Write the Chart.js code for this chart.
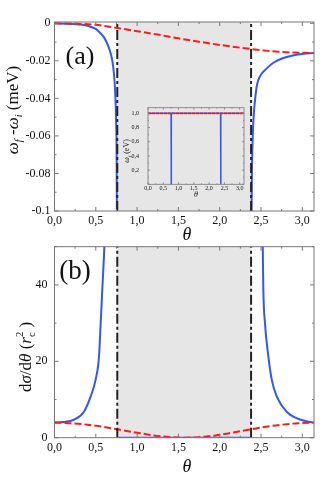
<!DOCTYPE html>
<html>
<head>
<meta charset="utf-8">
<script src="https://cdn.jsdelivr.net/npm/chart.js@4.4.1/dist/chart.umd.min.js"></script>
<style>
  html, body { margin: 0; padding: 0; background: #fff; }
  #wrap { position: relative; width: 332px; height: 478px; overflow: hidden; }
  canvas { position: absolute; }
  #chartA { left: 0; top: 0; }
  #chartB { left: 0; top: 240px; }
  #inset { left: 118px; top: 100px; }
</style>
</head>
<body>
<div id="wrap">
  <canvas id="chartA" width="332" height="240"></canvas>
  <canvas id="chartB" width="332" height="238"></canvas>
  <canvas id="inset" width="130" height="100"></canvas>
</div>
<script>
// ---- data ----
// panel (a): omega_f - omega_i (meV) vs theta
const thetaBlueA = [0, 0.2, 0.3, 0.4, 0.5, 0.55, 0.6, 0.65, 0.68, 0.7, 0.72, 0.735, 0.745, 0.752, 0.756,
                    1.57,
                    2.384, 2.39, 2.40, 2.415, 2.43, 2.45, 2.49, 2.57, 2.65, 2.77, 2.9, 3.0, 3.1416];
const shiftBlueA = [0, -0.0003, -0.0006, -0.0013, -0.003, -0.005, -0.0075, -0.012, -0.016, -0.02, -0.027, -0.037, -0.05, -0.07, -0.11,
                    null,
                    -0.11, -0.08, -0.06, -0.047, -0.04, -0.033, -0.028, -0.024, -0.021, -0.0185, -0.017, -0.0163, -0.0158];
const thetaRedA = [0, 0.25, 0.5, 0.76, 1.0, 1.25, 1.5, 1.75, 2.0, 2.25, 2.38, 2.5, 2.75, 3.0, 3.1416];
const shiftRedA = [0, -0.0002, -0.0008, -0.0025, -0.0042, -0.006, -0.008, -0.0098, -0.0115, -0.013, -0.0137, -0.0143, -0.0153, -0.0157, -0.0158];

// panel (b): d sigma / d theta (r_c^2) vs theta
const thetaBlueB = [0, 0.1, 0.236, 0.357, 0.438, 0.498, 0.539, 0.559, 0.579, 0.599, 0.62, 0.65,
                    0.7, 0.76, 2.38, 2.45,
                    2.49, 2.52, 2.528, 2.548, 2.589, 2.63, 2.69, 2.81, 2.93, 3.05, 3.1416];
const sigmaBlueB = [3.95, 4.1, 4.7, 6.8, 10.8, 15.2, 21.3, 30, 38.9, 47.6, 58, 75,
                    null, 0, 0, null,
                    75, 52, 38.9, 30, 21.3, 15.2, 10.8, 6.8, 5.1, 4.3, 3.95];
const thetaRedB = [0, 0.2, 0.4, 0.55, 0.76, 1.0, 1.2, 1.4, 1.57, 1.75, 1.95, 2.15, 2.38, 2.6, 2.75, 2.95, 3.1416];
const sigmaRedB = [3.95, 3.8, 3.4, 3.0, 2.2, 1.3, 0.6, 0.15, 0, 0.15, 0.6, 1.3, 2.2, 3.0, 3.4, 3.8, 3.95];

// inset: omega_f (eV) vs theta
const thetaBlueInset = [0, 0.755, 0.76, 0.765, 2.375, 2.38, 2.385, 3.1416];
const omegaBlueInset = [1, 1, 0, 1, 1, 0, 1, 1];
const thetaRedInset = [0, 3.1416];
const omegaRedInset = [1, 1];

// critical angles bounding the shaded band
const edges = [0.76, 2.38];

// axis limits
const xLim = [0, Math.PI];
const yLimA = [-0.1, 0.0007];
const yLimB = [0, 50];
const yLimInset = [0, 1.08];

const SERIF = '"Liberation Serif", "Times New Roman", serif';
const BLUE = '#3355ff';
const RED = '#ff1a1a';
const FRAME = '#777';

const pts = (xs, ys) => xs.map((x, i) => ({ x, y: ys[i] }));
const comma = v => v.toFixed(1).replace('.', ',');

function edgeLines(yLim, width) {
  return edges.map(e => ({
    data: [{ x: e, y: yLim[0] }, { x: e, y: yLim[1] }],
    borderColor: '#222', borderWidth: width, borderDash: [10, 3, 3, 3],
    pointRadius: 0, order: 0,
  }));
}

// shaded band between the critical angles
const shadePlugin = {
  id: 'shade',
  beforeDatasetsDraw(chart, args, o) {
    if (!o.on) return;
    const { ctx, chartArea: a, scales: { x } } = chart;
    const x0 = x.getPixelForValue(edges[0]);
    const x1 = x.getPixelForValue(edges[1]);
    ctx.save();
    ctx.fillStyle = '#e6e6e6';
    ctx.fillRect(x0, a.top, x1 - x0, a.bottom - a.top);
    ctx.restore();
  }
};

// box frame with inward major/minor ticks on all sides
const framePlugin = {
  id: 'frame',
  afterDatasetsDraw(chart, args, o) {
    const { ctx, chartArea: a, scales: { x, y } } = chart;
    ctx.save();
    ctx.strokeStyle = FRAME;
    ctx.lineWidth = o.lw;
    ctx.strokeRect(a.left, a.top, a.right - a.left, a.bottom - a.top);
    ctx.beginPath();
    const near = (v, s) => Math.abs(v / s - Math.round(v / s)) < 1e-6;
    for (let i = Math.ceil(x.min / o.xMinor - 1e-9); i * o.xMinor <= x.max + 1e-9; i++) {
      const v = i * o.xMinor;
      const px = x.getPixelForValue(v);
      const len = near(v, o.xMajor) ? o.major : o.minor;
      ctx.moveTo(px, a.bottom); ctx.lineTo(px, a.bottom - len);
      ctx.moveTo(px, a.top); ctx.lineTo(px, a.top + len);
    }
    for (let i = Math.ceil(y.min / o.yMinor - 1e-9); i * o.yMinor <= y.max + 1e-9; i++) {
      const v = i * o.yMinor;
      const py = y.getPixelForValue(v);
      const len = near(v, o.yMajor) ? o.major : o.minor;
      ctx.moveTo(a.left, py); ctx.lineTo(a.left + len, py);
      ctx.moveTo(a.right, py); ctx.lineTo(a.right - len, py);
    }
    ctx.stroke();
    ctx.restore();
  }
};

// text with italics / sub / superscripts
function richText(ctx, parts, cx, cy, size, rot) {
  ctx.save();
  ctx.translate(cx, cy);
  if (rot) ctx.rotate(rot);
  ctx.fillStyle = '#111';
  ctx.textBaseline = 'alphabetic';
  const fontOf = p => `${p.it ? 'italic ' : ''}${(p.sub || p.sup) ? size * 0.62 : size}px ${SERIF}`;
  let w = 0;
  for (const p of parts) {
    ctx.font = fontOf(p);
    p.w = ctx.measureText(p.t).width;
    if (!p.stack) w += p.w;
  }
  let x = -w / 2;
  for (const p of parts) {
    ctx.font = fontOf(p);
    const dy = p.sub ? size * 0.28 : p.sup ? -size * 0.42 : 0;
    ctx.fillText(p.t, x, size * 0.33 + dy);
    if (!p.stack) x += p.w;
  }
  ctx.restore();
}

const labelPlugin = {
  id: 'labels',
  afterDraw(chart, args, o) {
    for (const item of o.items || []) {
      richText(chart.ctx, item.parts.map(p => ({ ...p })), item.x, item.y, item.size, item.rot || 0);
    }
  }
};

Chart.register(shadePlugin, framePlugin, labelPlugin);

function baseOptions(c) {
  return {
    responsive: false,
    animation: false,
    events: [],
    layout: { padding: c.padding },
    plugins: {
      legend: { display: false },
      tooltip: { enabled: false },
      shade: { on: c.shade },
      frame: c.frame,
      labels: { items: c.labels },
    },
    scales: {
      x: {
        type: 'linear', min: xLim[0], max: xLim[1],
        grid: { display: false, drawTicks: false }, border: { display: false },
        ticks: {
          stepSize: 0.5, includeBounds: false, autoSkip: false, maxRotation: 0,
          padding: c.xPad, color: '#111', font: { family: SERIF, size: c.fs },
          callback: comma,
        },
        afterFit: s => { s.height = c.xh; s.paddingLeft = 0; s.paddingRight = 0; },
      },
      y: {
        type: 'linear', min: c.yLim[0], max: c.yLim[1],
        grid: { display: false, drawTicks: false }, border: { display: false },
        ticks: {
          stepSize: c.yStep, includeBounds: false, autoSkip: false,
          padding: c.yPad, color: '#111', font: { family: SERIF, size: c.fs },
          callback: c.yFmt,
        },
        afterFit: s => { s.width = c.yw; s.paddingTop = 0; s.paddingBottom = 0; },
      },
    },
  };
}

const lineDefaults = { pointRadius: 0, fill: false, spanGaps: false, cubicInterpolationMode: 'monotone' };

// ---- panel (a) ----
new Chart(document.getElementById('chartA'), {
  type: 'line',
  data: {
    datasets: [
      ...edgeLines(yLimA, 2),
      { ...lineDefaults, data: pts(thetaRedA, shiftRedA), borderColor: RED, borderWidth: 2, borderDash: [7, 3], order: 1 },
      { ...lineDefaults, data: pts(thetaBlueA, shiftBlueA), borderColor: BLUE, borderWidth: 2, order: 2 },
    ],
  },
  options: baseOptions({
    padding: { left: 0, right: 18, top: 22, bottom: 0 },
    xh: 29, yw: 54.5, xPad: 3, yPad: 4, fs: 12,
    yLim: yLimA, yStep: 0.02, shade: true,
    yFmt: v => Math.abs(v) < 1e-9 ? '0' : String(+v.toFixed(2)),
    frame: { lw: 1, major: 4, minor: 2, xMajor: 0.5, xMinor: 0.25, yMajor: 0.02, yMinor: 0.01 },
    labels: [
      { parts: [{ t: '(a)' }], x: 80, y: 55, size: 26 },
      { parts: [{ t: 'θ', it: true }], x: 187, y: 234, size: 18 },
      { parts: [{ t: 'ω', it: true }, { t: 'f', it: true, sub: true }, { t: ' -' }, { t: 'ω', it: true }, { t: 'i', it: true, sub: true }, { t: ' (meV)' }],
        x: 12, y: 110, size: 17, rot: -Math.PI / 2 },
    ],
  }),
});

// ---- panel (b) ----
new Chart(document.getElementById('chartB'), {
  type: 'line',
  data: {
    datasets: [
      ...edgeLines(yLimB, 2),
      { ...lineDefaults, data: pts(thetaRedB, sigmaRedB), borderColor: RED, borderWidth: 2, borderDash: [7, 3], order: 1 },
      { ...lineDefaults, data: pts(thetaBlueB, sigmaBlueB), borderColor: BLUE, borderWidth: 2, order: 2 },
    ],
  },
  options: baseOptions({
    padding: { left: 0, right: 18, top: 6.7, bottom: 0 },
    xh: 40.3, yw: 54.5, xPad: 3, yPad: 7, fs: 12,
    yLim: yLimB, yStep: 20, shade: true,
    yFmt: v => String(v),
    frame: { lw: 1, major: 4, minor: 2, xMajor: 0.5, xMinor: 0.25, yMajor: 20, yMinor: 10 },
    labels: [
      { parts: [{ t: '(b)' }], x: 75, y: 30, size: 27 },
      { parts: [{ t: 'θ', it: true }], x: 187, y: 226, size: 18 },
      { parts: [{ t: 'd' }, { t: 'σ', it: true }, { t: '/d' }, { t: 'θ', it: true }, { t: ' (' }, { t: 'r', it: true },
                { t: 'c', sub: true, stack: true }, { t: '2', sup: true }, { t: ' )' }],
        x: 25, y: 117, size: 17, rot: -Math.PI / 2 },
    ],
  }),
});

// ---- inset ----
new Chart(document.getElementById('inset'), {
  type: 'line',
  data: {
    datasets: [
      { ...lineDefaults, cubicInterpolationMode: 'default', data: pts(thetaRedInset, omegaRedInset), borderColor: RED, borderWidth: 1.6, borderDash: [3, 1], order: 0 },
      { ...lineDefaults, cubicInterpolationMode: 'default', data: pts(thetaBlueInset, omegaBlueInset), borderColor: BLUE, borderWidth: 1.5, order: 1 },
    ],
  },
  options: baseOptions({
    padding: { left: 0, right: 4, top: 7.7, bottom: 0 },
    xh: 15.7, yw: 30, xPad: 1, yPad: 9, fs: 6,
    yLim: yLimInset, yStep: 0.2, shade: false,
    yFmt: v => v < 1e-9 ? '' : comma(v),
    frame: { lw: 0.8, major: 2, minor: 1, xMajor: 0.5, xMinor: 0.25, yMajor: 0.2, yMinor: 0.1 },
    labels: [
      { parts: [{ t: 'θ', it: true }], x: 78, y: 94, size: 8 },
      { parts: [{ t: 'ω', it: true }, { t: 'f', it: true, sub: true }, { t: ' (eV)' }], x: 8, y: 51, size: 8, rot: -Math.PI / 2 },
    ],
  }),
});
</script>
</body>
</html>
